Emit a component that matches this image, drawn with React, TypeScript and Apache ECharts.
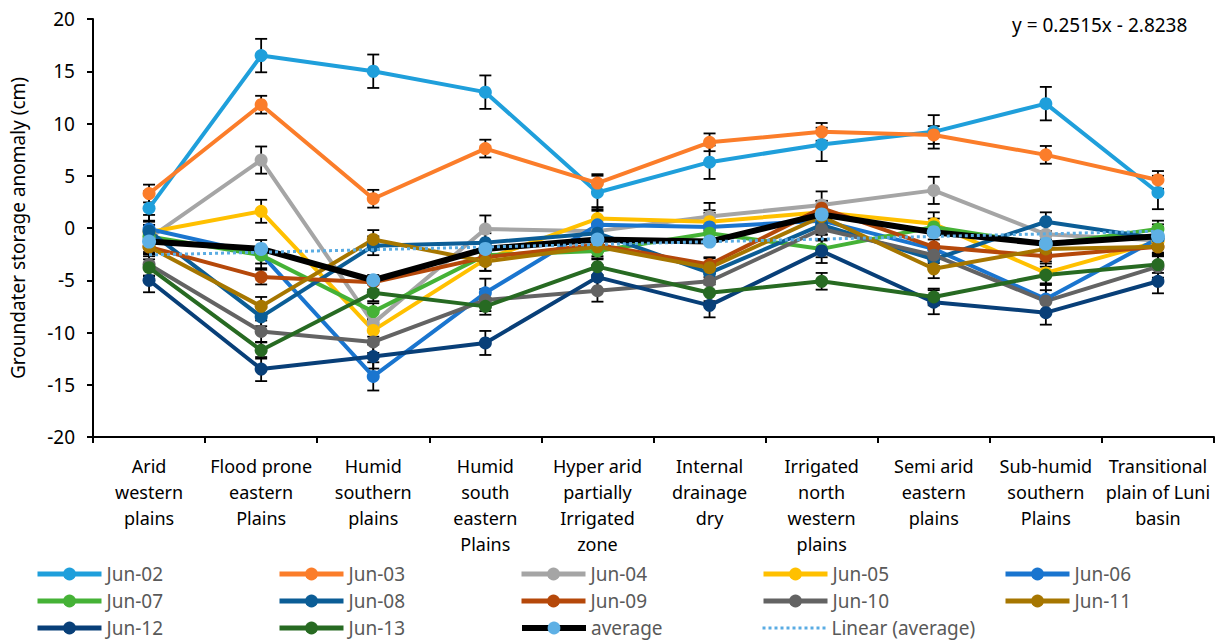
import React, { useEffect, useRef } from "react";
import * as echarts from "echarts";

const categories = [
  "Arid\nwestern\nplains",
  "Flood prone\neastern\nPlains",
  "Humid\nsouthern\nplains",
  "Humid\nsouth\neastern\nPlains",
  "Hyper arid\npartially\nIrrigated\nzone",
  "Internal\ndrainage\ndry",
  "Irrigated\nnorth\nwestern\nplains",
  "Semi arid\neastern\nplains",
  "Sub-humid\nsouthern\nPlains",
  "Transitional\nplain of Luni\nbasin",
];

const seriesNames = [
  "Jun-02", "Jun-03", "Jun-04", "Jun-05", "Jun-06", "Jun-07",
  "Jun-08", "Jun-09", "Jun-10", "Jun-11", "Jun-12", "Jun-13",
];

const jun02 = [1.9, 16.5, 15.0, 13.0, 3.4, 6.3, 8.0, 9.2, 11.9, 3.4];
const jun03 = [3.3, 11.8, 2.8, 7.6, 4.3, 8.2, 9.2, 8.9, 7.0, 4.6];
const jun04 = [-1.0, 6.5, -9.1, -0.1, -0.3, 1.1, 2.2, 3.6, -0.6, -1.2];
const jun05 = [-0.4, 1.6, -9.8, -3.0, 0.9, 0.6, 1.5, 0.4, -4.3, -1.3];
const jun06 = [-0.1, -2.5, -14.2, -6.2, 0.3, 0.1, 0.7, -2.0, -6.8, -1.0];
const jun07 = [-0.8, -2.6, -8.0, -2.6, -2.2, -0.5, -2.0, 0.1, -1.6, -0.1];
const jun08 = [-0.3, -8.5, -1.7, -1.4, -0.5, -4.3, 0.3, -3.0, 0.6, -1.0];
const jun09 = [-1.8, -4.7, -5.2, -2.8, -1.6, -3.5, 1.9, -1.8, -2.7, -1.8];
const jun10 = [-3.5, -9.9, -10.9, -6.9, -6.0, -5.1, -0.1, -2.6, -7.0, -3.7];
const jun11 = [-1.8, -7.5, -1.1, -3.2, -1.8, -3.8, 1.1, -3.9, -2.0, -1.8];
const jun12 = [-5.0, -13.5, -12.3, -11.0, -4.7, -7.4, -2.2, -7.1, -8.1, -5.1];
const jun13 = [-3.8, -11.7, -6.2, -7.5, -3.7, -6.2, -5.1, -6.6, -4.5, -3.5];
const average = [-1.3, -2.0, -5.0, -2.0, -1.1, -1.3, 1.3, -0.4, -1.5, -0.8];
// Linear trend of the average, y = 0.2515x - 2.8238, at x = 1..10
const linearAverage = [-2.57, -2.32, -2.07, -1.82, -1.57, -1.31, -1.06, -0.81, -0.56, -0.31];

const errorMargins = [1.6, 0.85, 1.3, 1.1, 1.35, 0.8, 0.9, 0.7, 1.05, 0.9, 1.15, 0.8];

const yTicks = { min: -20, max: 20, interval: 5 };
const equationText = "y = 0.2515x - 2.8238";
const yAxisTitle = "Groundater storage anomaly (cm)";

// legend grid: 5 columns x 3 rows, row-major order as in the reference
const legendOrder = [
  "Jun-02", "Jun-03", "Jun-04", "Jun-05", "Jun-06",
  "Jun-07", "Jun-08", "Jun-09", "Jun-10", "Jun-11",
  "Jun-12", "Jun-13", "average", "Linear (average)",
];

const seriesValues = [jun02, jun03, jun04, jun05, jun06, jun07, jun08, jun09, jun10, jun11, jun12, jun13];
const seriesColors = [
  "#1f9fdb", "#fb7d2a", "#a5a5a5", "#ffc000", "#1a75cf", "#45b236",
  "#0b5d96", "#b5480a", "#636363", "#a67600", "#083f78", "#276a22",
];

const FONT = "'Noto Sans', sans-serif";

export default function App() {
  const ref = useRef<HTMLDivElement>(null);
  useEffect(() => {
    if (!ref.current) return;
    const chart = echarts.init(ref.current, null, { renderer: "svg" });
    const series: any[] = [];
    seriesNames.forEach((name, si) => {
      const vals = seriesValues[si];
      const err = errorMargins[si];
      series.push({
        type: "custom",
        name: name + " error",
        z: 2,
        silent: true,
        data: vals.map((v, i) => [i, v - err, v + err]),
        renderItem: (params: any, api: any) => {
          const lo = api.coord([api.value(0), api.value(1)]);
          const hi = api.coord([api.value(0), api.value(2)]);
          const half = 6;
          const style = { stroke: "#000", lineWidth: 1.8 };
          return {
            type: "group",
            children: [
              { type: "line", shape: { x1: lo[0], y1: lo[1], x2: hi[0], y2: hi[1] }, style },
              { type: "line", shape: { x1: lo[0] - half, y1: lo[1], x2: lo[0] + half, y2: lo[1] }, style },
              { type: "line", shape: { x1: hi[0] - half, y1: hi[1], x2: hi[0] + half, y2: hi[1] }, style },
            ],
          };
        },
      });
      series.push({
        type: "line",
        name,
        data: vals,
        z: 2,
        symbol: "circle",
        symbolSize: 13,
        color: seriesColors[si],
        lineStyle: { width: 4, color: seriesColors[si] },
        itemStyle: { color: seriesColors[si] },
      });
    });
    series.push({
      type: "line",
      name: "average",
      data: average,
      z: 3,
      symbol: "circle",
      symbolSize: 14,
      color: "#5eb0e5",
      lineStyle: { width: 6, color: "#000" },
      itemStyle: { color: "#5eb0e5" },
    });
    series.push({
      type: "line",
      name: "Linear (average)",
      data: linearAverage,
      z: 3,
      symbol: "none",
      color: "#5aace3",
      lineStyle: { width: 3, color: "#5aace3", type: [3, 3] },
    });

    const legends = legendOrder.map((nm, k) => {
      const col = k % 5;
      const row = Math.floor(k / 5);
      const isAvg = nm === "average";
      const isLin = nm === "Linear (average)";
      const lg: any = {
        orient: "horizontal",
        left: 35 + 242 * col,
        top: 564 + 27 * row,
        padding: 0,
        itemWidth: 64,
        itemHeight: 16,
        data: [nm],
        selectedMode: false,
        lineStyle: isLin ? { width: 3, type: [3, 3] } : { width: isAvg ? 6 : 5 },
        textStyle: { fontFamily: FONT, fontSize: 19, color: "#595959", lineHeight: 20 },
      };
      if (isLin) lg.itemStyle = { color: "transparent", borderWidth: 0, opacity: 0 };
      return lg;
    });

    chart.setOption({
      animation: false,
      textStyle: { fontFamily: FONT },
      grid: { left: 92, right: 7, top: 19, bottom: 203, containLabel: false },
      legend: legends,
      xAxis: {
        type: "category",
        data: categories,
        boundaryGap: true,
        axisLine: { onZero: false, lineStyle: { color: "#000", width: 2 } },
        axisTick: { show: true, length: 6, lineStyle: { color: "#000", width: 2 } },
        axisLabel: {
          interval: 0,
          margin: 16,
          fontFamily: FONT,
          fontSize: 18,
          lineHeight: 26,
          color: "#000",
          verticalAlign: "top",
        },
      },
      yAxis: {
        type: "value",
        min: yTicks.min,
        max: yTicks.max,
        interval: yTicks.interval,
        name: yAxisTitle,
        nameLocation: "middle",
        nameRotate: 90,
        nameGap: 66,
        nameTextStyle: { fontFamily: FONT, fontSize: 19, color: "#000" },
        axisLine: { show: true, lineStyle: { color: "#000", width: 2 } },
        axisTick: { show: true, length: 6, lineStyle: { color: "#000", width: 2 } },
        splitLine: { show: false },
        axisLabel: { fontFamily: FONT, fontSize: 19, color: "#000", margin: 18 },
      },
      graphic: [
        {
          type: "text",
          left: 1012,
          top: 15,
          style: { text: equationText, fontFamily: FONT, fontSize: 19, fill: "#000" },
        },
      ],
      series,
    });
    return () => chart.dispose();
  }, []);
  return <div ref={ref} style={{ width: 1221, height: 640, position: "absolute", left: 0, top: 0 }} />;
}
